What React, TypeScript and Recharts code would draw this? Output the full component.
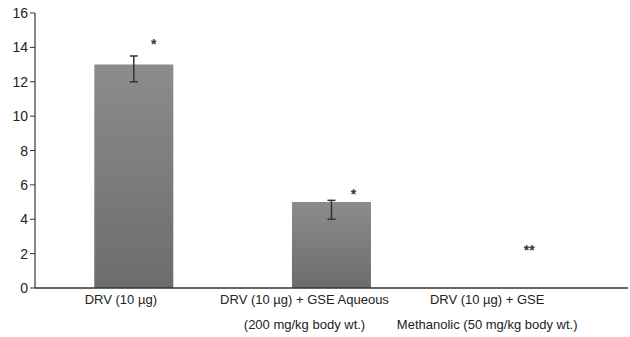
import { ComposedChart, Bar, Scatter, XAxis, YAxis, ErrorBar } from "recharts";

const groups = ["g1", "g2", "g3"];
const labelLines = [
  ["DRV (10 µg)"],
  ["DRV (10 µg) + GSE Aqueous", "(200 mg/kg body wt.)"],
  ["DRV (10 µg) + GSE", "Methanolic (50 mg/kg body wt.)"],
];
const means = [13, 5, 0];
const errors: ([number, number] | null)[] = [[1, 0.5], [1, 0.1], null];
const marks = ["*", "*", "**"];
const markLevel = [14.3, 5.6, 2.3];
const yTicks = [0, 2, 4, 6, 8, 10, 12, 14, 16];

// the original's category labels sit left of the bars
const labelShift = [-13, -27, -42];
const markShift = [20, 22, 0];

const data = groups.map((g, i) => ({
  g,
  value: means[i],
  err: errors[i],
  mark: markLevel[i],
}));

const FONT = "'Liberation Sans', Arial, sans-serif";

function CatTick(props: any) {
  const { x, y, index } = props;
  const lines = labelLines[index] || [];
  return (
    <g>
      {lines.map((t, k) => (
        <text
          key={k}
          x={x + labelShift[index]}
          y={y + 8 + k * 25}
          textAnchor="middle"
          fontSize={13}
          fontFamily={FONT}
          fill="#222"
        >
          {t}
        </text>
      ))}
    </g>
  );
}

function ValTick(props: any) {
  const { x, y, payload } = props;
  return (
    <text
      x={x}
      y={y + 5}
      textAnchor="end"
      fontSize={14}
      fontFamily={FONT}
      fill="#222"
    >
      {payload.value}
    </text>
  );
}

function Mark(props: any) {
  const { cx, cy, index } = props;
  return (
    <text
      x={cx + markShift[index]}
      y={cy + 7}
      textAnchor="middle"
      fontSize={14}
      fontWeight="bold"
      fontFamily={FONT}
      fill="#333"
    >
      {marks[index]}
    </text>
  );
}

export default function App() {
  return (
    <div style={{ position: "absolute", left: 0, top: 0, background: "#fff" }}>
      <ComposedChart
        width={630}
        height={337}
        data={data}
        margin={{ top: 13, right: 2, bottom: 0, left: 0 }}
        barCategoryGap="30%"
      >
        <defs>
          <linearGradient id="barFill" x1="0" y1="0" x2="0" y2="1">
            <stop offset="0%" stopColor="#8c8c8c" />
            <stop offset="100%" stopColor="#6c6c6c" />
          </linearGradient>
        </defs>
        <XAxis
          dataKey="g"
          height={49}
          tickLine={false}
          axisLine={{ stroke: "#333", strokeWidth: 1.5 }}
          tick={<CatTick />}
          interval={0}
        />
        <YAxis
          width={35}
          domain={[0, 16]}
          ticks={yTicks}
          tickSize={5}
          axisLine={{ stroke: "#333", strokeWidth: 1.2 }}
          tickLine={{ stroke: "#333" }}
          tick={<ValTick />}
        />
        <Bar dataKey="value" fill="url(#barFill)" isAnimationActive={false}>
          <ErrorBar dataKey="err" width={4} stroke="#333" strokeWidth={1.5} />
        </Bar>
        <Scatter dataKey="mark" shape={<Mark />} isAnimationActive={false} />
      </ComposedChart>
    </div>
  );
}
